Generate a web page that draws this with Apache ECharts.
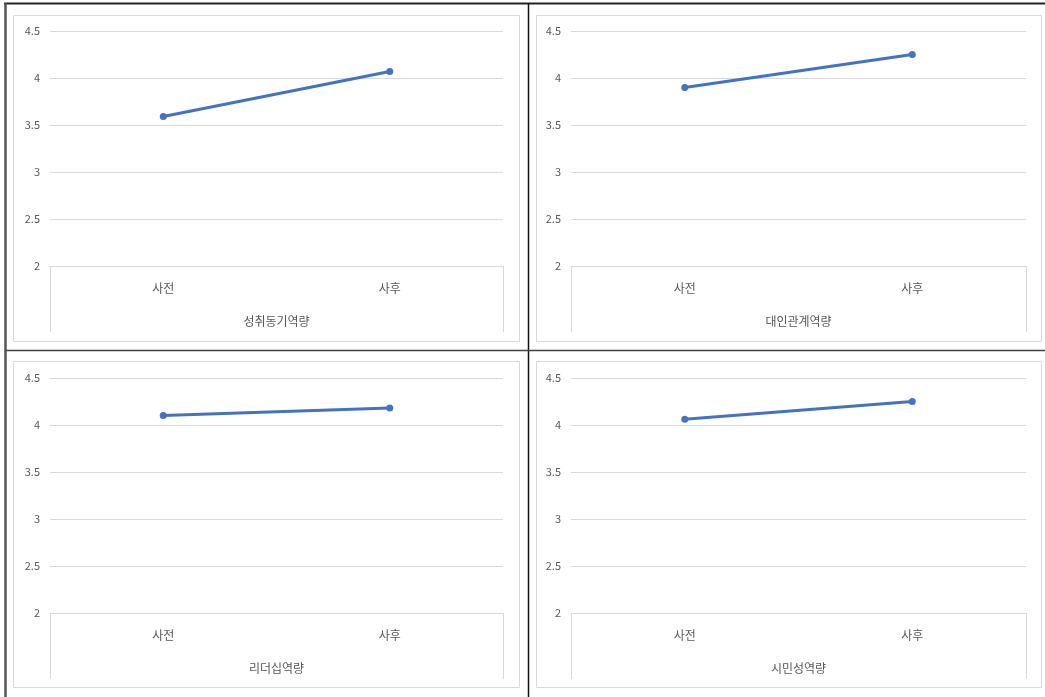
<!DOCTYPE html>
<html>
<head>
<meta charset="utf-8">
<script src="https://cdn.jsdelivr.net/npm/echarts@6/dist/echarts.min.js"></script>
<style>
  html, body { margin: 0; padding: 0; background: #fff; }
  #main { width: 1045px; height: 697px; }
</style>
</head>
<body>
<div id="main"></div>
<script>
// data
const categories = ['사전', '사후']
const groupNames = ['성취동기역량', '대인관계역량', '리더십역량', '시민성역량']
const valuesAchieve = [3.59, 4.07]
const valuesRelation = [3.90, 4.25]
const valuesLeader = [4.10, 4.18]
const valuesCitizen = [4.06, 4.25]
const yTicks = [2, 2.5, 3, 3.5, 4, 4.5]

const allValues = [valuesAchieve, valuesRelation, valuesLeader, valuesCitizen]

// panel layout: plot area for each chart
const panels = [
  { left: 50, top: 31, width: 453, height: 235, box: [13, 15, 506, 326] },
  { left: 571, top: 31, width: 455, height: 235, box: [536, 15, 505, 326] },
  { left: 50, top: 378, width: 453, height: 235, box: [13, 361, 506, 326] },
  { left: 571, top: 378, width: 455, height: 235, box: [536, 361, 505, 326] }
]

const font = '"Noto Sans CJK KR", "Noto Sans", sans-serif'
const lineColor = '#4472C4'
const gridColor = '#d9d9d9'
const textColor = '#595959'

const chart = echarts.init(document.getElementById('main'))

const grid = []
const xAxis = []
const yAxis = []
const series = []
const graphic = []

panels.forEach((p, i) => {
  grid.push({ left: p.left, top: p.top, width: p.width, height: p.height })
  xAxis.push({
    type: 'category',
    gridIndex: i,
    data: categories,
    boundaryGap: true,
    axisLine: { show: true, lineStyle: { color: gridColor, width: 1 } },
    axisTick: { show: false },
    axisLabel: { color: textColor, fontSize: 12, fontFamily: font, margin: 16 },
    name: groupNames[i],
    nameLocation: 'middle',
    nameGap: 49,
    nameTextStyle: { color: textColor, fontSize: 12, fontFamily: font }
  })
  yAxis.push({
    type: 'value',
    gridIndex: i,
    min: yTicks[0],
    max: yTicks[yTicks.length - 1],
    interval: 0.5,
    axisLine: { show: false },
    axisTick: { show: false },
    axisLabel: { color: textColor, fontSize: 11, fontFamily: font, margin: 10 },
    splitLine: { lineStyle: { color: gridColor, width: 1 } }
  })
  series.push({
    type: 'line',
    xAxisIndex: i,
    yAxisIndex: i,
    data: allValues[i],
    symbol: 'circle',
    symbolSize: 7,
    lineStyle: { color: lineColor, width: 3 },
    itemStyle: { color: lineColor },
    animation: false
  })

  // chart area border
  graphic.push({
    type: 'rect',
    shape: { x: p.box[0] + 0.5, y: p.box[1] + 0.5, width: p.box[2], height: p.box[3] },
    style: { fill: null, stroke: gridColor, lineWidth: 1 }
  })
  // side lines of the multi-level category box
  const bottom = p.top + p.height
  graphic.push({
    type: 'line',
    shape: { x1: p.left + 0.5, y1: bottom, x2: p.left + 0.5, y2: bottom + 66 },
    style: { stroke: gridColor, lineWidth: 1 }
  })
  graphic.push({
    type: 'line',
    shape: { x1: p.left + p.width + 0.5, y1: bottom, x2: p.left + p.width + 0.5, y2: bottom + 66 },
    style: { stroke: gridColor, lineWidth: 1 }
  })
})

// outer table lines
graphic.push({ type: 'line', shape: { x1: 4, y1: 3.5, x2: 1045, y2: 3.5 }, style: { stroke: '#222', lineWidth: 2 } })
graphic.push({ type: 'line', shape: { x1: 5.5, y1: 3, x2: 5.5, y2: 697 }, style: { stroke: '#555', lineWidth: 2.5 } })
graphic.push({ type: 'line', shape: { x1: 528.5, y1: 3, x2: 528.5, y2: 697 }, style: { stroke: '#111', lineWidth: 1.5 } })
graphic.push({ type: 'line', shape: { x1: 5, y1: 350.5, x2: 1045, y2: 350.5 }, style: { stroke: '#444', lineWidth: 1.5 } })

chart.setOption({
  animation: false,
  grid: grid,
  xAxis: xAxis,
  yAxis: yAxis,
  series: series,
  graphic: graphic
})
</script>
</body>
</html>
